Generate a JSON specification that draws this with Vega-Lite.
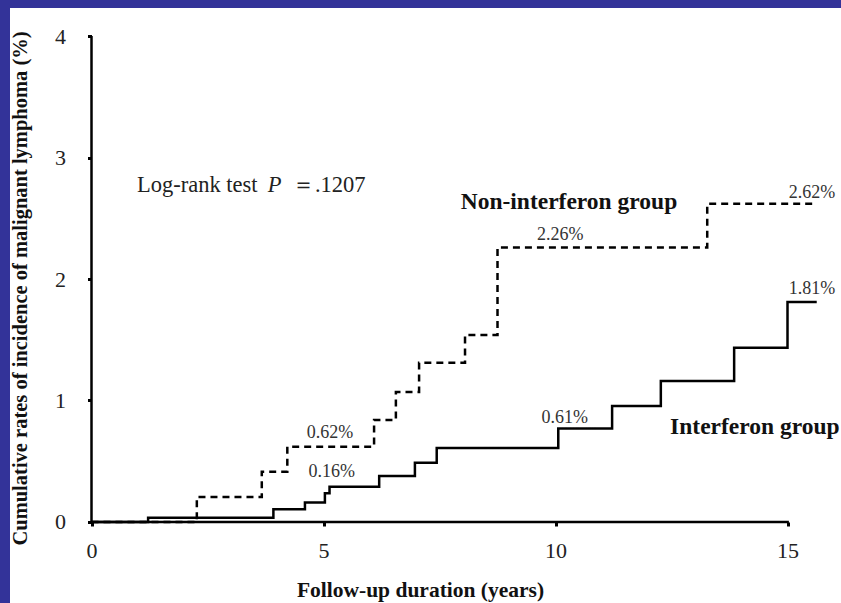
{
  "$schema": "https://vega.github.io/schema/vega-lite/v6.json",
  "width": 831,
  "height": 595,
  "autosize": {"type": "none"},
  "padding": {"top": 8, "left": 10, "right": 0, "bottom": 0},
  "background": "#333399",
  "config": {
    "view": {"fill": "white", "stroke": null},
    "font": "Liberation Serif",
    "text": {"font": "Liberation Serif"}
  },
  "datasets": {
    "frame": [
      {"years": 0, "rate": 0, "years_end": 15.03, "rate_end": 0},
      {"years": 0, "rate": 0, "years_end": 0, "rate_end": 4}
    ],
    "curves": [
      {"group": "Non-interferon", "years": 0, "rate": 0},
      {"group": "Non-interferon", "years": 2.27, "rate": 0.206},
      {"group": "Non-interferon", "years": 3.67, "rate": 0.414},
      {"group": "Non-interferon", "years": 4.22, "rate": 0.62},
      {"group": "Non-interferon", "years": 6.09, "rate": 0.84},
      {"group": "Non-interferon", "years": 6.56, "rate": 1.07},
      {"group": "Non-interferon", "years": 7.06, "rate": 1.31},
      {"group": "Non-interferon", "years": 8.05, "rate": 1.54},
      {"group": "Non-interferon", "years": 8.75, "rate": 2.26},
      {"group": "Non-interferon", "years": 13.27, "rate": 2.62},
      {"group": "Non-interferon", "years": 15.63, "rate": 2.62},
      {"group": "Interferon", "years": 0, "rate": 0},
      {"group": "Interferon", "years": 1.22, "rate": 0.035},
      {"group": "Interferon", "years": 3.92, "rate": 0.104},
      {"group": "Interferon", "years": 4.6, "rate": 0.16},
      {"group": "Interferon", "years": 5.03, "rate": 0.236},
      {"group": "Interferon", "years": 5.13, "rate": 0.29},
      {"group": "Interferon", "years": 6.2, "rate": 0.379},
      {"group": "Interferon", "years": 6.97, "rate": 0.488},
      {"group": "Interferon", "years": 7.44, "rate": 0.61},
      {"group": "Interferon", "years": 10.06, "rate": 0.77},
      {"group": "Interferon", "years": 11.22, "rate": 0.955},
      {"group": "Interferon", "years": 12.27, "rate": 1.16},
      {"group": "Interferon", "years": 13.85, "rate": 1.435},
      {"group": "Interferon", "years": 15.0, "rate": 1.81},
      {"group": "Interferon", "years": 15.63, "rate": 1.81}
    ],
    "values": [
      {"label": "0.62%", "years": 5.14, "rate": 0.73},
      {"label": "0.16%", "years": 5.18, "rate": 0.414},
      {"label": "0.61%", "years": 10.2, "rate": 0.86},
      {"label": "2.26%", "years": 10.1, "rate": 2.36},
      {"label": "2.62%", "years": 15.53, "rate": 2.705},
      {"label": "1.81%", "years": 15.53, "rate": 1.92}
    ],
    "groups": [
      {"label": "Non-interferon group", "years": 10.29, "rate": 2.636, "align": "center"},
      {"label": "Interferon group", "years": 12.47, "rate": 0.784, "align": "left"}
    ],
    "test": [
      {"part": "Log-rank test", "years": 0.98, "rate": 2.774, "style": "normal"},
      {"part": "P", "years": 3.8, "rate": 2.774, "style": "italic"},
      {"part": "＝.1207", "years": 4.32, "rate": 2.774, "style": "normal"}
    ]
  },
  "encoding": {
    "x": {
      "field": "years",
      "type": "quantitative",
      "scale": {"domain": [-1.7565, 16.153], "nice": false, "zero": false},
      "axis": {
        "values": [0, 5, 10, 15],
        "offset": -81,
        "domain": false,
        "grid": false,
        "ticks": true,
        "tickSize": 4,
        "tickWidth": 3,
        "tickColor": "black",
        "labelFont": "Liberation Serif",
        "labelFontSize": 22,
        "labelColor": "#222",
        "labelPadding": 14,
        "title": "Follow-up duration (years)",
        "titleFont": "Liberation Serif",
        "titleFontSize": 21.5,
        "titleFontWeight": "bold",
        "titleColor": "#111",
        "titleX": 410,
        "titleY": 68,
        "titleAlign": "center",
        "titleBaseline": "middle"
      }
    },
    "y": {
      "field": "rate",
      "type": "quantitative",
      "scale": {"domain": [-0.6667, 4.2305], "nice": false, "zero": false},
      "axis": {
        "values": [0, 1, 2, 3, 4],
        "offset": -81.5,
        "domain": false,
        "grid": false,
        "ticks": true,
        "tickSize": 4,
        "tickWidth": 3,
        "tickColor": "black",
        "labelFont": "Liberation Serif",
        "labelFontSize": 22,
        "labelColor": "#222",
        "labelPadding": 22,
        "title": "Cumulative rates of  incidence of  malignant lymphoma (%)",
        "titleFont": "Liberation Serif",
        "titleFontSize": 20.5,
        "titleFontWeight": "bold",
        "titleColor": "#111",
        "titleAngle": -90,
        "titleX": -71.5,
        "titleY": 280,
        "titleAlign": "center",
        "titleBaseline": "middle"
      }
    }
  },
  "layer": [
    {
      "data": {"name": "frame"},
      "mark": {"type": "rule", "color": "black", "strokeWidth": 2.5},
      "encoding": {
        "x2": {"field": "years_end"},
        "y2": {"field": "rate_end"}
      }
    },
    {
      "data": {"name": "curves"},
      "mark": {"type": "line", "interpolate": "step-after", "color": "black", "strokeWidth": 2.5},
      "encoding": {
        "strokeDash": {
          "field": "group",
          "type": "nominal",
          "scale": {"domain": ["Non-interferon", "Interferon"], "range": [[7, 5], [1, 0]]},
          "legend": null
        }
      }
    },
    {
      "data": {"name": "values"},
      "mark": {"type": "text", "fontSize": 18, "color": "#333", "align": "center", "baseline": "middle"},
      "encoding": {"text": {"field": "label"}}
    },
    {
      "data": {"name": "groups"},
      "transform": [{"filter": "datum.align === 'center'"}],
      "mark": {"type": "text", "fontSize": 23.5, "fontWeight": "bold", "color": "#111", "align": "center", "baseline": "middle"},
      "encoding": {"text": {"field": "label"}}
    },
    {
      "data": {"name": "groups"},
      "transform": [{"filter": "datum.align === 'left'"}],
      "mark": {"type": "text", "fontSize": 23.5, "fontWeight": "bold", "color": "#111", "align": "left", "baseline": "middle"},
      "encoding": {"text": {"field": "label"}}
    },
    {
      "data": {"name": "test"},
      "transform": [{"filter": "datum.style === 'normal'"}],
      "mark": {"type": "text", "fontSize": 22.5, "color": "#222", "align": "left", "baseline": "middle"},
      "encoding": {"text": {"field": "part"}}
    },
    {
      "data": {"name": "test"},
      "transform": [{"filter": "datum.style === 'italic'"}],
      "mark": {"type": "text", "fontSize": 22.5, "fontStyle": "italic", "color": "#222", "align": "left", "baseline": "middle"},
      "encoding": {"text": {"field": "part"}}
    }
  ]
}
